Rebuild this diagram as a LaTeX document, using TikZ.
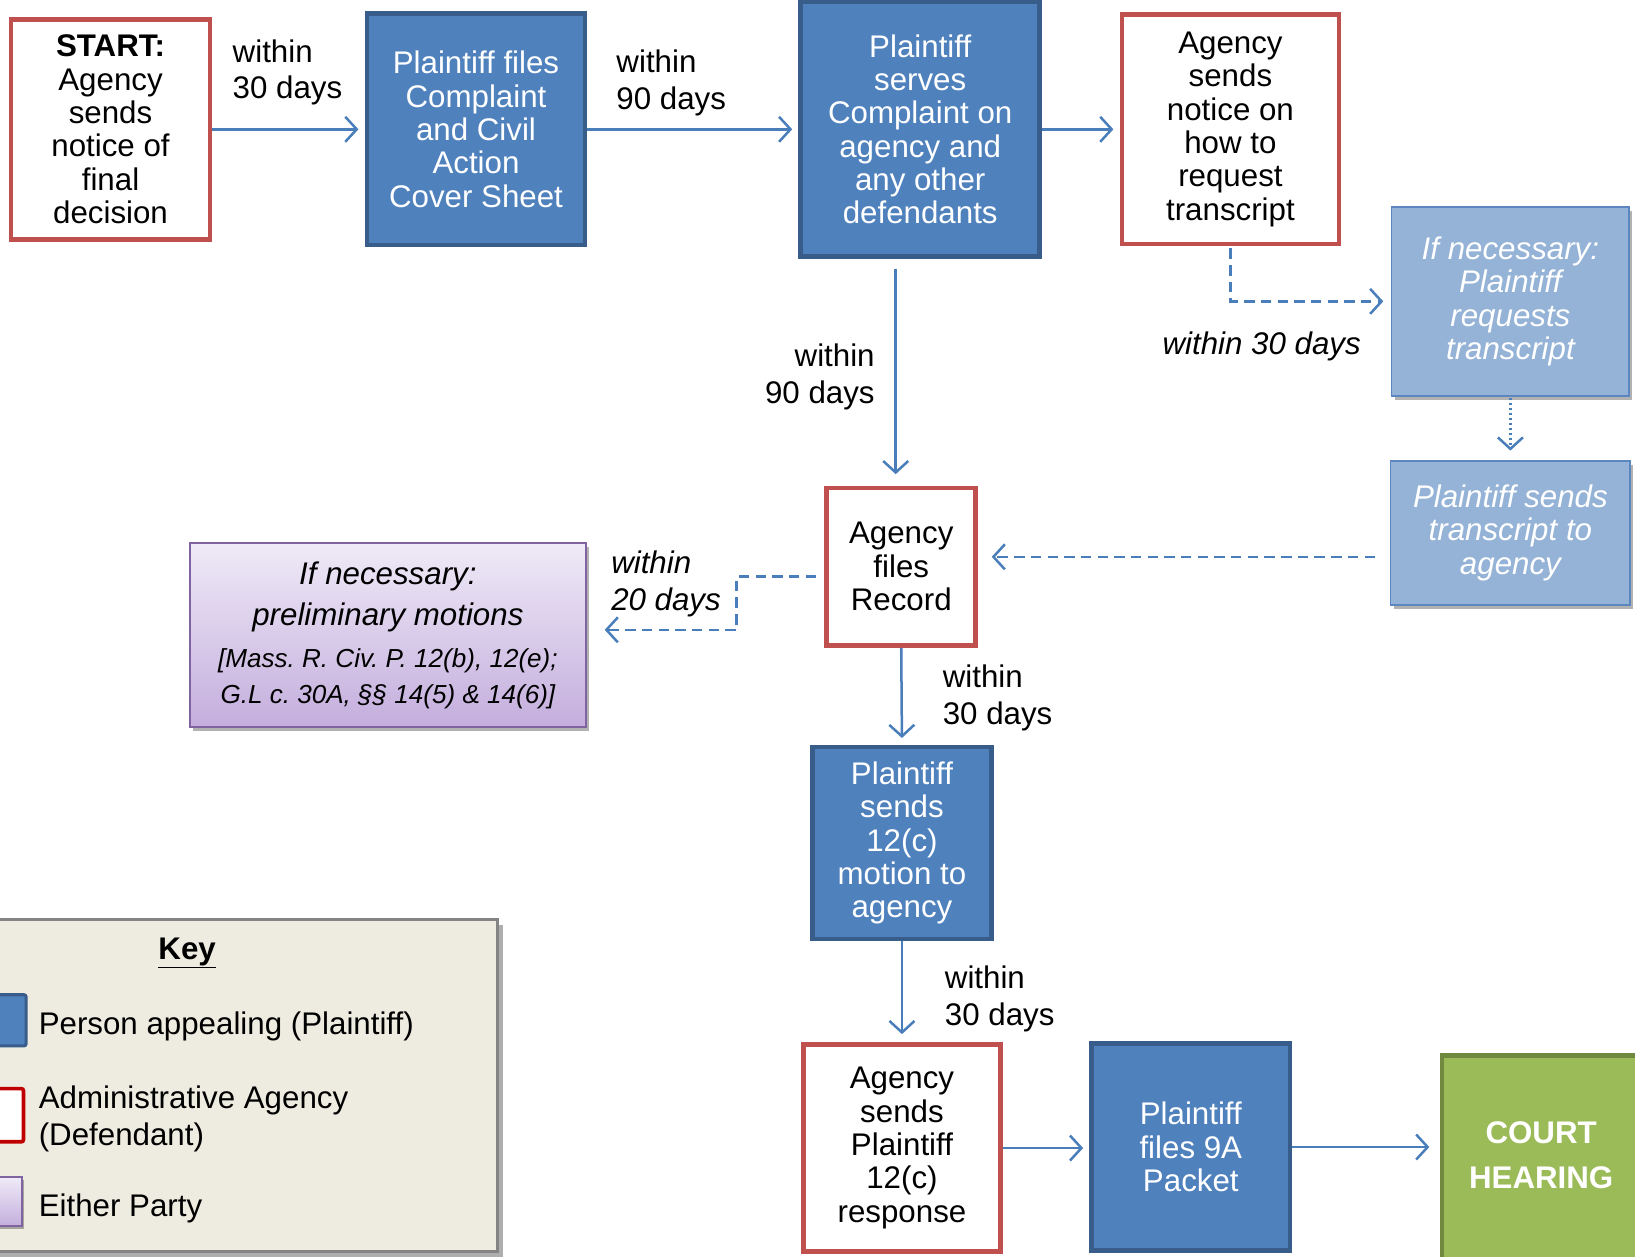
\documentclass[tikz,border=0pt]{standalone}
\usepackage{fontspec}
\setmainfont{Liberation Sans}
\usetikzlibrary{arrows.meta,shadows,calc}
\definecolor{pblue}{HTML}{4F81BD}
\definecolor{pbluedark}{HTML}{385D8A}
\definecolor{ared}{HTML}{C0504D}
\definecolor{kred}{HTML}{C00000}
\definecolor{lblue}{HTML}{95B3D7}
\definecolor{lbord}{HTML}{5B86C0}
\definecolor{arrc}{HTML}{4A7EBB}
\definecolor{gfill}{HTML}{9BBB59}
\definecolor{gbord}{HTML}{71893F}
\definecolor{ptop}{HTML}{EFEAF7}
\definecolor{pbot}{HTML}{C4AEDD}
\definecolor{pbord}{HTML}{8064A2}
\definecolor{keyfill}{HTML}{EEECE1}
\definecolor{keybord}{HTML}{848484}
\frenchspacing
\tikzset{
  box/.style={rectangle, align=center, inner sep=2pt, font=\fontsize{30}{32}\selectfont},
  plainbox/.style={box, draw=pbluedark, fill=pblue, line width=4.5pt, text=white},
  agencybox/.style={box, draw=ared, fill=white, line width=4.5pt, text=black},
  lightbox/.style={box, draw=lbord, fill=lblue, line width=1.8pt, text=white,
    font=\fontsize{30}{32}\selectfont\itshape,
    drop shadow={shadow xshift=3pt, shadow yshift=-4pt, opacity=0.3, fill=black}},
  lab/.style={align=left, inner sep=0pt, font=\fontsize{30}{35}\selectfont},
  arr/.style={draw=arrc, line width=2.4pt, -{Straight Barb[length=11pt,width=24pt]}},
  dashedarr/.style={arr, dash pattern=on 10pt off 6pt},
  dottedarr/.style={arr, dash pattern=on 2.4pt off 2.4pt},
}
\begin{document}
\begin{tikzpicture}[x=1pt,y=-1pt]
\useasboundingbox (0,0) rectangle (1568,1205);

% main boxes
\node[agencybox, minimum width=191pt, minimum height=211pt] (start) at (106,124)
  {\textbf{START:}\\Agency\\sends\\notice of\\final\\decision};
\node[plainbox, minimum width=209pt, minimum height=222pt] (files) at (456.5,124)
  {Plaintiff files\\Complaint\\and Civil\\Action\\Cover Sheet};
\node[plainbox, minimum width=229pt, minimum height=244pt] (serves) at (882.5,124)
  {Plaintiff\\serves\\Complaint on\\agency and\\any other\\defendants};
\node[agencybox, minimum width=208pt, minimum height=220pt] (notice) at (1180,124)
  {Agency\\sends\\notice on\\how to\\request\\transcript};
\node[lightbox, minimum width=228pt, minimum height=181pt] (reqtr) at (1448.5,289)
  {If necessary:\\Plaintiff\\requests\\transcript};
\node[lightbox, minimum width=230pt, minimum height=138pt] (sendtr) at (1448.5,511)
  {Plaintiff sends\\transcript to\\agency};
\node[agencybox, minimum width=143pt, minimum height=151pt] (record) at (864.3,543.5)
  {Agency\\files\\Record};
\node[box, draw=pbord, line width=1.8pt, top color=ptop, bottom color=pbot,
  minimum width=380pt, minimum height=176pt, text=black,
  font=\fontsize{30}{40}\selectfont\itshape,
  drop shadow={shadow xshift=3pt, shadow yshift=-4pt, opacity=0.3, fill=black}] (prelim) at (372,609)
  {If necessary:\\
   preliminary motions\\
   \fontsize{25}{34}\selectfont [Mass. R. Civ. P. 12(b), 12(e);\\[-6pt]
   \fontsize{25}{34}\selectfont G.L c. 30A, §§ 14(5) \& 14(6)]};
\node[plainbox, minimum width=172pt, minimum height=184pt] (motion) at (865,808.5)
  {Plaintiff\\sends\\12(c)\\motion to\\agency};
\node[agencybox, minimum width=189pt, minimum height=198pt] (response) at (865,1101)
  {Agency\\sends\\Plaintiff\\12(c)\\response};
\node[plainbox, minimum width=190pt, minimum height=199pt] (packet) at (1142,1100)
  {Plaintiff\\files 9A\\Packet};
\node[box, draw=gbord, fill=gfill, line width=4.5pt, text=white,
  minimum width=190pt, minimum height=204pt, text depth=12pt,
  font=\fontsize{30}{43}\selectfont\bfseries] (court) at (1478,1114)
  {COURT\\HEARING};

% helper points for connectors that leave a box off its centre line
\coordinate (a6s) at ($(sendtr.west)+(-14,23)$);
\coordinate (a6e) at (a6s -| record.east);
\coordinate (a7s) at ($(serves.south)+(-23.5,9.5)$);
\coordinate (a7e) at (a7s |- record.north);
\coordinate (a8s) at ($(record.west)+(-8,9.5)$);
\coordinate (a8e) at ($(prelim.east)+(0,-5)$);

% connectors
\draw[arr, shorten >=6pt] (start.east) -- (files.west);
\draw[arr, shorten >=6pt] (files.east) -- (serves.west);
\draw[arr, shorten >=6pt] (serves.east) -- (notice.west);
\draw[dashedarr, shorten <=2pt, shorten >=7pt] (notice.south) |- (reqtr.west);
\draw[dottedarr, shorten <=1pt, shorten >=9pt] (reqtr.south) -- (sendtr.north);
\draw[dashedarr, shorten >=13pt] (a6s) -- (a6e);
\draw[arr, shorten >=11pt] (a7s) -- (a7e);
\draw[dashedarr, shorten >=17pt] (a8s) -- ++(-76,0) |- (a8e);
\draw[arr, shorten >=6.5pt] (record.south) -- (motion.north);
\draw[arr, shorten >=8pt] (motion.south) -- (response.north);
\draw[arr, shorten >=6pt] (response.east) -- (response.east -| packet.west);
\draw[arr, shorten >=10pt] (packet.east) -- (packet.east -| court.west);

% connector labels
\node[lab, anchor=west] (l1) at (223,69.5) {within\\30 days};
\node[lab, anchor=west] (l2) at (591,79.5) {within\\90 days};
\node[lab, anchor=east, align=right] (l3) at (839,361.5) {within\\90 days};
\node[lab, font=\fontsize{30}{35}\selectfont\itshape] (l4) at (1210,332) {within 30 days};
\node[lab, anchor=west, font=\fontsize{30}{35}\selectfont\itshape] (l5) at (586,560) {within\\20 days};
\node[lab, anchor=west] (l6) at (904,669.5) {within\\30 days};
\node[lab, anchor=west] (l7) at (906,958) {within\\30 days};

% key
\node[rectangle, draw=keybord, fill=keyfill, line width=3pt,
  minimum width=497pt, minimum height=318pt,
  drop shadow={shadow xshift=5pt, shadow yshift=-5pt, opacity=0.45, fill=black!70}] (key) at (228.5,1041) {};
\node[font=\fontsize{30}{35}\selectfont\bfseries, inner sep=0pt] (keytitle) at (179.5,914) {\underline{Key}};
\node[rectangle, draw=pbluedark, fill=pblue, line width=3pt, rounded corners=2pt,
  minimum width=35pt, minimum height=49pt] (kblue) at (7.5,978.5) {};
\node[rectangle, draw=kred, fill=white, line width=3.5pt, rounded corners=2pt,
  minimum width=33pt, minimum height=51pt] (kred) at (6,1069.5) {};
\node[rectangle, draw=pbord, top color=ptop, bottom color=pbot, line width=1.5pt,
  minimum width=31pt, minimum height=47pt,
  drop shadow={shadow xshift=2pt, shadow yshift=-3pt, opacity=0.3, fill=black}] (kpurple) at (5.5,1152.5) {};
\node[lab, anchor=west] (k1) at (37,984) {Person appealing (Plaintiff)};
\node[lab, anchor=west] (k2) at (37,1073) {Administrative Agency\\(Defendant)};
\node[lab, anchor=west] (k3) at (37,1159) {Either Party};
\end{tikzpicture}
\end{document}
